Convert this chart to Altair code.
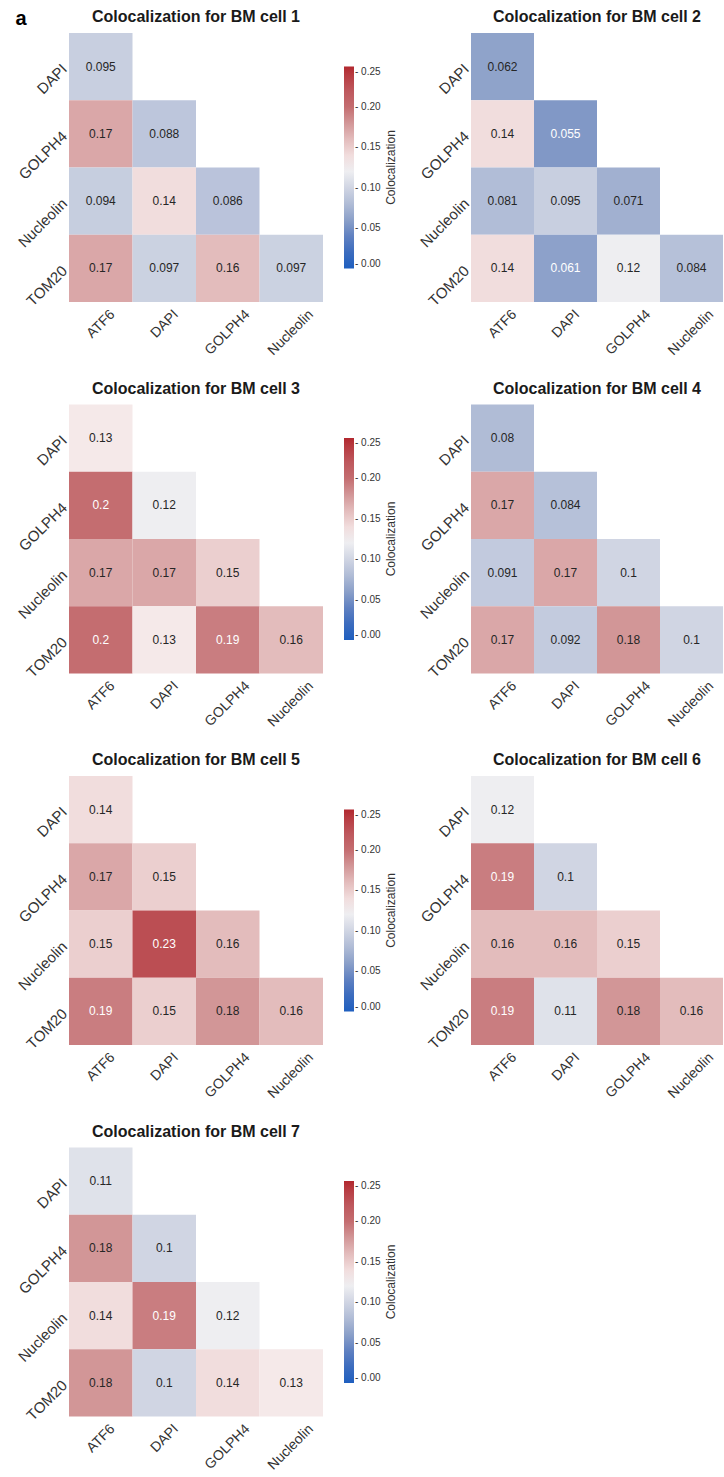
import altair as alt
import pandas as pd

# marker pairs: columns along x, rows along y (lower triangle only)
col_names = ["ATF6", "DAPI", "GOLPH4", "Nucleolin"]
row_names = ["DAPI", "GOLPH4", "Nucleolin", "TOM20"]

# one list per row (DAPI, GOLPH4, Nucleolin, TOM20), values left to right
bm_cell_1 = [[0.095], [0.17, 0.088], [0.094, 0.14, 0.086], [0.17, 0.097, 0.16, 0.097]]
bm_cell_2 = [[0.062], [0.14, 0.055], [0.081, 0.095, 0.071], [0.14, 0.061, 0.12, 0.084]]
bm_cell_3 = [[0.13], [0.2, 0.12], [0.17, 0.17, 0.15], [0.2, 0.13, 0.19, 0.16]]
bm_cell_4 = [[0.08], [0.17, 0.084], [0.091, 0.17, 0.1], [0.17, 0.092, 0.18, 0.1]]
bm_cell_5 = [[0.14], [0.17, 0.15], [0.15, 0.23, 0.16], [0.19, 0.15, 0.18, 0.16]]
bm_cell_6 = [[0.12], [0.19, 0.1], [0.16, 0.16, 0.15], [0.19, 0.11, 0.18, 0.16]]
bm_cell_7 = [[0.11], [0.18, 0.1], [0.14, 0.19, 0.12], [0.18, 0.1, 0.14, 0.13]]
cells = [bm_cell_1, bm_cell_2, bm_cell_3, bm_cell_4, bm_cell_5, bm_cell_6, bm_cell_7]

# diverging blue-white-red colour map over 0 .. 0.25
color_stops = [0.0, 0.03, 0.055, 0.071, 0.085, 0.095, 0.11, 0.12, 0.13, 0.14,
               0.15, 0.16, 0.17, 0.18, 0.19, 0.2, 0.23, 0.25]
color_values = ["#1f5fbf", "#4a72bd", "#8198c6", "#a1b0d0", "#b8c2da", "#c8cfe0",
                "#dfe2ea", "#eeeef1", "#f5e9e9", "#f1dddd", "#ebcfcf", "#e3bcbc",
                "#daa7a8", "#d29697", "#c97d80", "#c46d70", "#bb4e53", "#b2282f"]
colorbar_ticks = [0.0, 0.05, 0.10, 0.15, 0.20, 0.25]
colorbar_title = ["Colocalization"]

FONT = "Liberation Sans"
PLOT_H = 269


def to_frame(matrix):
    records = []
    for r, row in enumerate(matrix):
        for c, v in enumerate(row):
            records.append({"row": row_names[r], "col": col_names[c], "v": v})
    return pd.DataFrame(records)


x_axis = alt.Axis(
    title="", labelAngle=315, labelAlign="right", labelBaseline="top",
    labelPadding=5,
    labelOffset={"condition": {"test": "datum.value == 'ATF6' || datum.value == 'DAPI'",
                               "value": 7}, "value": 15},
    ticks=False, domain=False, labelFontSize=14, labelFont=FONT,
    labelColor="#333333", labelOverlap=False, labelBound=False, labelFlush=False,
)
y_axis = alt.Axis(
    title="", labelAngle=315, labelAlign="right", labelBaseline="middle",
    labelPadding=5, ticks=False, domain=False, labelFontSize=15, labelFont=FONT,
    labelColor="#333333", labelOverlap=False, labelBound=False, labelFlush=False,
)

colorbar = alt.Legend(
    orient="none", legendX=275, legendY=33.5, direction="vertical",
    gradientLength=202, gradientThickness=10, gradientStrokeWidth=0,
    values=colorbar_ticks, format=".2f", labelExpr="'- ' + datum.label",
    labelFont=FONT, labelFontSize=10, labelColor="#333333", labelOffset=1,
    title="",
)


def panel(matrix, number, width, with_colorbar):
    base = alt.Chart(to_frame(matrix)).encode(
        x=alt.X("col:N", sort=col_names, axis=x_axis,
                scale=alt.Scale(domain=col_names, paddingInner=0, paddingOuter=0)),
        y=alt.Y("row:N", sort=row_names, axis=y_axis,
                scale=alt.Scale(domain=row_names, paddingInner=0, paddingOuter=0)),
    )
    color_scale = alt.Scale(domain=color_stops, range=color_values, interpolate="rgb")
    if with_colorbar:
        fill = alt.Color("v:Q", scale=color_scale, legend=colorbar)
    else:
        fill = alt.Color("v:Q", scale=color_scale, legend=None)
    rect = base.mark_rect(strokeWidth=0).encode(color=fill)
    text = base.mark_text(font=FONT, fontSize=12).encode(
        text=alt.Text("v:Q", format=".2~g"),
        color=alt.condition("datum.v >= 0.185 || datum.v <= 0.0615",
                            alt.value("#ffffff"), alt.value("#262626")),
    )
    layers = [rect, text]
    if with_colorbar:
        # rotated caption beside the colour bar
        caption = alt.Chart(pd.DataFrame({"t": colorbar_title})).mark_text(
            font=FONT, fontSize=12, angle=270, align="center", baseline="middle",
            color="#333333",
        ).encode(text="t:N", x=alt.value(width + 68), y=alt.value(PLOT_H / 2))
        layers.append(caption)
    return alt.layer(*layers).properties(
        width=width, height=PLOT_H,
        title=alt.TitleParams(
            f"Colocalization for BM cell {number}", font=FONT, fontSize=16,
            fontWeight="bold", color="#1a1a1a", anchor="middle", frame="group",
            offset=8,
        ),
    )


rows = []
for i in range(0, len(cells), 2):
    left = panel(cells[i], i + 1, 254, True)
    if i + 1 < len(cells):
        right = panel(cells[i + 1], i + 2, 252, False)
        row = alt.hconcat(left, right, spacing=20)
    else:
        row = alt.hconcat(left, spacing=20)
    rows.append(row.resolve_scale(color="independent").resolve_legend(color="independent"))

chart = (
    alt.vconcat(*rows, spacing=22.5)
    .resolve_scale(color="independent")
    .resolve_legend(color="independent")
    .properties(
        padding={"left": 15, "top": 9, "right": 0, "bottom": 0},
        background="white",
        title=alt.TitleParams("a", anchor="start", frame="bounds", font=FONT,
                              fontSize=20, fontWeight="bold", color="#000000",
                              offset=0, dy=20),
    )
    .configure_view(stroke=None)
)

chart.save("out.html", embed_options={"renderer": "svg", "actions": False})
